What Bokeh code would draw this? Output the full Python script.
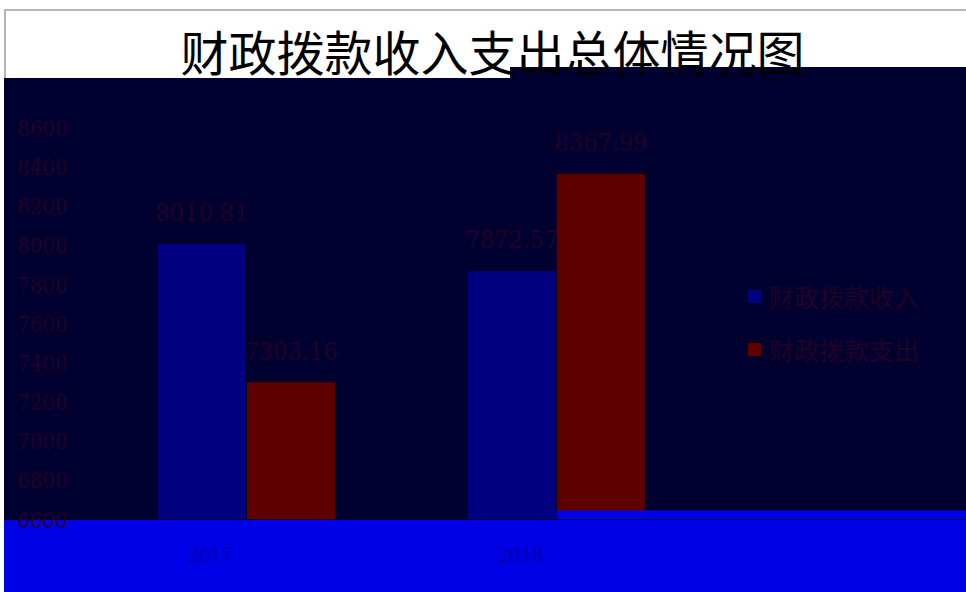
import numpy as np
from bokeh.plotting import figure
from bokeh.models import (Range1d, FixedTicker, ColumnDataSource, LabelSet, Title,
                          Legend, LegendItem, BoxAnnotation, LinearAxis)
from bokeh.core.properties import value
from bokeh.embed import file_html
from bokeh.resources import INLINE

# ---- data ----
title_text = "财政拨款收入支出总体情况图"
categories = ["2017", "2018"]
series_names = ["财政拨款收入", "财政拨款支出"]
income = [8010.81, 7872.57]
expense = [7303.16, 8367.99]
y_ticks = [6600, 6800, 7000, 7200, 7400, 7600, 7800, 8000, 8200, 8400, 8600]

# ---- style ----
NAVY = "#000030"
BLUE = "#0000e6"
INC_C = "#000080"
EXP_C = "#5e0000"
TXT_DARK = "#230026"
W, H = 966, 592
LEFT, TOP, BOTTOM = 80, 78, 73
BAR_W = 0.287
X0, X1 = -0.0355, 2.823
Y0, Y1 = 6600, 8852

idx = np.arange(len(categories)) + 0.5
inc_x = idx - BAR_W / 2
exp_x = idx + BAR_W / 2

p = figure(width=W, height=H, x_range=Range1d(X0, X1), y_range=Range1d(Y0, Y1),
           x_axis_location=None, toolbar_location=None, output_backend="svg",
           min_border_left=LEFT, min_border_right=0, min_border_top=TOP,
           min_border_bottom=BOTTOM)
p.background_fill_color = NAVY
p.border_fill_alpha = 0
p.outline_line_color = None
p.grid.visible = False
# page backdrop: white title strip with grey edge, navy chart body, blue category strip
p.styles = {
    "background": (
        f"linear-gradient({NAVY},{NAVY}) 510px 67px / 456px 11px no-repeat, "
        "linear-gradient(#b4b4b4,#b4b4b4) 4px 9px / 962px 2px no-repeat, "
        "linear-gradient(#b4b4b4,#b4b4b4) 4px 9px / 2px 69px no-repeat, "
        "linear-gradient(#ffffff,#ffffff) 0px 0px / 4px 592px no-repeat, "
        f"linear-gradient(to bottom, #ffffff 0px, #ffffff 78px, {NAVY} 78px, "
        f"{NAVY} 520px, {BLUE} 520px, {BLUE} 592px)"
    )
}

title = Title(text=title_text, align="left", offset=100, standoff=-12,
              text_font="Noto Sans CJK SC", text_font_size="48px",
              text_font_style="normal", text_color="black")
p.add_layout(title, "above")

# y axis
p.yaxis.ticker = FixedTicker(ticks=y_ticks)
p.yaxis.axis_line_color = None
p.yaxis.major_tick_line_color = None
p.yaxis.minor_tick_line_color = None
p.yaxis.major_label_standoff = 7
p.yaxis.major_label_text_font = "DejaVu Serif Condensed"
p.yaxis.major_label_text_font_size = "22px"
p.yaxis.major_label_text_color = TXT_DARK

# bars
src = ColumnDataSource(dict(inc_x=inc_x, exp_x=exp_x, income=income, expense=expense,
                            inc_lab=[f"{v:.2f}" for v in income],
                            exp_lab=[f"{v:.2f}" for v in expense]))
r1 = p.vbar(x="inc_x", top="income", bottom=Y0, width=BAR_W, source=src,
            fill_color=INC_C, line_color="#00001a", line_width=1)
r2 = p.vbar(x="exp_x", top="expense", bottom=Y0, width=BAR_W, source=src,
            fill_color=EXP_C, line_color="#00001a", line_width=1)

for xs, ys, labs in (("inc_x", "income", "inc_lab"), ("exp_x", "expense", "exp_lab")):
    p.add_layout(LabelSet(x=xs, y=ys, text=labs, source=src, y_offset=22,
                          text_align="center", text_baseline="bottom",
                          text_font=value("DejaVu Serif Condensed"),
                          text_font_size=value("25px"), text_color=TXT_DARK))

p.add_layout(BoxAnnotation(left=idx[1], bottom=None, top=6646,
                           fill_color=BLUE, fill_alpha=1, line_color=None))

# legend
legend = Legend(items=[LegendItem(label=series_names[0], renderers=[r1]),
                       LegendItem(label=series_names[1], renderers=[r2])],
                location=(665, 152), orientation="vertical")
legend.background_fill_alpha = 0
legend.border_line_color = None
legend.glyph_width = 18
legend.glyph_height = 18
legend.label_height = 22
legend.label_standoff = 6
legend.spacing = 17
legend.padding = 3
legend.margin = 0
legend.label_text_font = "Noto Sans CJK SC"
legend.label_text_font_size = "25px"
legend.label_text_color = TXT_DARK
p.add_layout(legend, "center")

# category axis (labels sit a little left of the bar groups)
shift = 36 / 310
p.extra_x_ranges = {"cat": Range1d(X0 + shift, X1 + shift)}
xax = LinearAxis(x_range_name="cat", ticker=FixedTicker(ticks=list(idx)))
xax.major_label_overrides = {float(v): c for v, c in zip(idx, categories)}
xax.axis_line_color = None
xax.major_tick_line_color = None
xax.minor_tick_line_color = None
xax.major_label_standoff = 21
xax.major_label_text_font = "DejaVu Serif Condensed"
xax.major_label_text_font_size = "20px"
xax.major_label_text_color = "#0000a8"
p.add_layout(xax, "below")

open("out.html", "w").write(file_html(p, INLINE))
